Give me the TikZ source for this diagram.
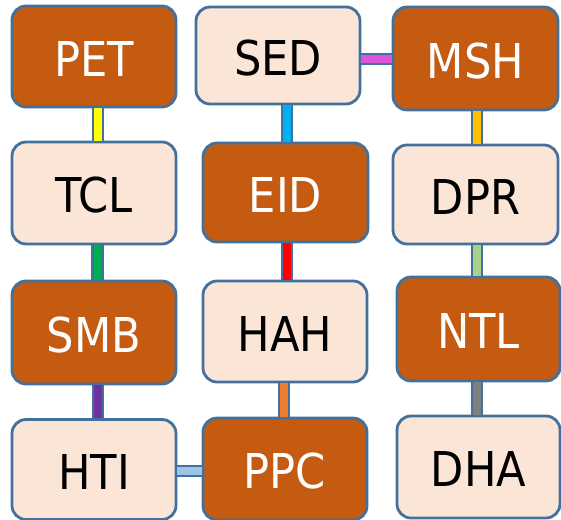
\documentclass[tikz,border=0pt]{standalone}
\usepackage{fontspec}
\setmainfont{DejaVu Sans Condensed}
\definecolor{bordc}{HTML}{41719C}
\definecolor{darkf}{HTML}{C55A11}
\definecolor{lightf}{HTML}{FBE5D6}
\definecolor{cyel}{HTML}{FFFF00}
\definecolor{cgrn}{HTML}{00B050}
\definecolor{cpur}{HTML}{7030A0}
\definecolor{cblu}{HTML}{00B0F0}
\definecolor{cred}{HTML}{FF0000}
\definecolor{corg}{HTML}{ED7D31}
\definecolor{cmag}{HTML}{DA55DA}
\definecolor{cgold}{HTML}{FFC000}
\definecolor{clgr}{HTML}{A9D18E}
\definecolor{cgry}{HTML}{7F7F7F}
\definecolor{clbl}{HTML}{9DC3E6}
\tikzset{
  box/.style={draw=bordc, line width=2.8pt, rounded corners=14pt, inner sep=0pt,
    font=\fontsize{48}{54}\selectfont, text height=39pt, text depth=0pt,
    minimum width=164pt, minimum height=100pt},
  darkbox/.style={box, fill=darkf, text=white},
  lightbox/.style={box, fill=lightf, text=black},
  bar/.style={draw=bordc, line width=2.5pt, double=#1, double distance=7.5pt}
}
\begin{document}
\begin{tikzpicture}[x=1pt,y=-1pt]
\useasboundingbox (0,0) rectangle (561,519);
\node[darkbox, minimum height=101pt] (PET) at (94,56.5) {PET};
\node[lightbox, minimum height=102pt] (TCL) at (94,193) {TCL};
\node[darkbox, minimum height=103pt] (SMB) at (94,332.5) {SMB};
\node[lightbox, minimum height=100pt] (HTI) at (94,469.5) {HTI};
\node[lightbox, minimum height=97pt] (SED) at (278,55.5) {SED};
\node[darkbox, minimum width=165pt, minimum height=99pt] (EID) at (285.5,192.5) {EID};
\node[lightbox, minimum height=101pt] (HAH) at (285,331.5) {HAH};
\node[darkbox, minimum height=102pt] (PPC) at (285,469) {PPC};
\node[darkbox, minimum width=165pt, minimum height=103pt] (MSH) at (475.5,58.5) {MSH};
\node[lightbox, minimum width=165pt, minimum height=99pt] (DPR) at (475.5,194.5) {DPR};
\node[darkbox, minimum width=163pt, minimum height=104pt] (NTL) at (478.5,329) {NTL};
\node[lightbox, minimum width=163pt, minimum height=102pt] (DHA) at (478.5,467) {DHA};
\coordinate (sm) at ([yshift=-3.5pt]SED.east);
\coordinate (hp) at ([yshift=-1.5pt]HTI.east);
\draw[bar=cyel] ([xshift=4pt]PET.south) -- ([xshift=4pt]TCL.north);
\draw[bar=cgrn] ([xshift=3.5pt]TCL.south) -- ([xshift=3.5pt]SMB.north);
\draw[bar=cpur] ([xshift=4pt]SMB.south) -- ([xshift=4pt]HTI.north);
\draw[bar=cblu] ([xshift=9pt]SED.south) -- ([xshift=1.5pt]EID.north);
\draw[bar=cred] ([xshift=1.5pt]EID.south) -- ([xshift=2pt]HAH.north);
\draw[bar=corg] ([xshift=-1pt]HAH.south) -- ([xshift=-1pt]PPC.north);
\draw[bar=cmag] (sm) -- (sm -| MSH.west);
\draw[bar=cgold] ([xshift=1.5pt]MSH.south) -- ([xshift=1.5pt]DPR.north);
\draw[bar=clgr] ([xshift=1.5pt]DPR.south) -- ([xshift=-1.5pt]NTL.north);
\draw[bar=cgry] ([xshift=-1.5pt]NTL.south) -- ([xshift=-1.5pt]DHA.north);
\draw[bar=clbl] (hp) -- (hp -| PPC.west);
\end{tikzpicture}
\end{document}
